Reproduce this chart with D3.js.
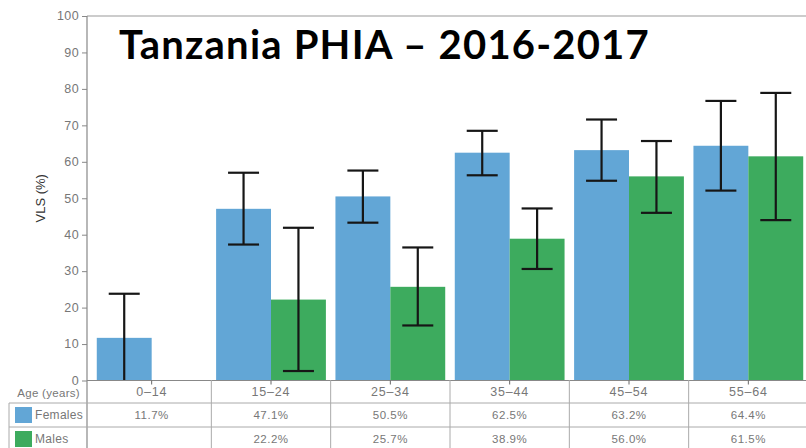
<!DOCTYPE html>
<html>
<head>
<meta charset="utf-8">
<script src="https://cdn.jsdelivr.net/npm/d3@7"></script>
<style>
  body { margin: 0; background: #fff; }
  svg { display: block; font-family: "Liberation Sans", Arial, sans-serif; }
</style>
</head>
<body>
<div id="chart"></div>
<script>
// data
const ageGroups = ["0–14", "15–24", "25–34", "35–44", "45–54", "55–64"];
const females = [11.7, 47.1, 50.5, 62.5, 63.2, 64.4];
const males = [null, 22.2, 25.7, 38.9, 56.0, 61.5];
const femalesLo = [0, 37.3, 43.3, 56.3, 54.8, 52.1];
const femalesHi = [23.8, 57.0, 57.6, 68.5, 71.6, 76.7];
const malesLo = [null, 2.6, 15.1, 30.6, 46.0, 44.0];
const malesHi = [null, 41.9, 36.5, 47.2, 65.7, 78.9];
const yTicks = [0, 10, 20, 30, 40, 50, 60, 70, 80, 90, 100];
const seriesNames = ["Females", "Males"];
const seriesColors = ["#62a6d6", "#3dab5e"];

const width = 806, height = 448;
const plotLeft = 87, plotTop = 16, plotBottom = 380.5;

const svg = d3.select("#chart").append("svg")
    .attr("width", width)
    .attr("height", height);

const x = d3.scaleBand()
    .domain(ageGroups)
    .range([92, 808])
    .paddingInner(0.08)
    .paddingOuter(0.04);

const xSub = d3.scaleBand()
    .domain(seriesNames)
    .range([0, x.bandwidth()]);

const y = d3.scaleLinear()
    .domain([0, 100])
    .range([plotBottom, plotTop]);

const series = [
    { name: "Females", vals: females, lo: femalesLo, hi: femalesHi },
    { name: "Males", vals: males, lo: malesLo, hi: malesHi }
];

// top frame line
svg.append("line")
    .attr("x1", plotLeft).attr("x2", width)
    .attr("y1", y(100)).attr("y2", y(100))
    .attr("stroke", "#999").attr("stroke-width", 1.2);

// bars
series.forEach((s, si) => {
    svg.append("g").selectAll("rect")
        .data(ageGroups.map((g, i) => ({ g: g, v: s.vals[i] })).filter(d => d.v != null))
        .enter().append("rect")
        .attr("x", d => x(d.g) + xSub(s.name))
        .attr("y", d => y(d.v))
        .attr("width", xSub.bandwidth())
        .attr("height", d => y(0) - y(d.v))
        .attr("fill", seriesColors[si]);
});

// error bars
const capW = 31;
series.forEach(s => {
    const eb = ageGroups.map((g, i) => ({ g: g, lo: s.lo[i], hi: s.hi[i] })).filter(d => d.lo != null);
    const g = svg.append("g").attr("stroke", "#161616").attr("stroke-width", 2.2);
    eb.forEach(d => {
        const cx = x(d.g) + xSub(s.name) + xSub.bandwidth() / 2;
        g.append("line").attr("x1", cx).attr("x2", cx).attr("y1", y(d.lo)).attr("y2", y(d.hi));
        g.append("line").attr("x1", cx - capW / 2).attr("x2", cx + capW / 2).attr("y1", y(d.hi)).attr("y2", y(d.hi));
        if (d.lo > 0) {
            g.append("line").attr("x1", cx - capW / 2).attr("x2", cx + capW / 2).attr("y1", y(d.lo)).attr("y2", y(d.lo));
        }
    });
});

// y axis
const yAxis = d3.axisLeft(y).tickValues(yTicks).tickSize(5).tickPadding(3);
const yg = svg.append("g")
    .attr("transform", "translate(" + plotLeft + ",0)")
    .call(yAxis);
yg.select(".domain").remove();
yg.selectAll(".tick line").attr("stroke", "#888");
yg.selectAll(".tick text").attr("fill", "#777")
    .style("font-size", "12.5px")
    .style("letter-spacing", "0.4px")
    .attr("dy", "0.3em");

svg.append("line")
    .attr("x1", plotLeft).attr("x2", plotLeft)
    .attr("y1", plotTop).attr("y2", height)
    .attr("stroke", "#888").attr("stroke-width", 1.2);

svg.append("text")
    .attr("transform", "translate(45," + (plotTop + plotBottom) / 2 + ") rotate(-90)")
    .attr("text-anchor", "middle")
    .attr("fill", "#333")
    .style("font-size", "13px")
    .text("VLS (%)");

// x axis baseline and small ticks
svg.append("line")
    .attr("x1", plotLeft).attr("x2", width)
    .attr("y1", y(0)).attr("y2", y(0))
    .attr("stroke", "#888").attr("stroke-width", 1.2);

svg.append("g").selectAll("line")
    .data(ageGroups)
    .enter().append("line")
    .attr("x1", d => x(d) + x.bandwidth() / 2)
    .attr("x2", d => x(d) + x.bandwidth() / 2)
    .attr("y1", y(0)).attr("y2", y(0) + 4)
    .attr("stroke", "#666");

// table below the axis
const rowTop = [380, 403, 427];
const colEdges = ageGroups.map(g => x(g) - (x.step() - x.bandwidth()) / 2);

const table = svg.append("g");
[403, 427].forEach(ty => {
    table.append("line")
        .attr("x1", 9).attr("x2", width)
        .attr("y1", ty).attr("y2", ty)
        .attr("stroke", "#aaa");
});
table.append("line")
    .attr("x1", 9).attr("x2", 9)
    .attr("y1", 403).attr("y2", height)
    .attr("stroke", "#aaa");
colEdges.slice(1).forEach(cx => {
    table.append("line")
        .attr("x1", cx).attr("x2", cx)
        .attr("y1", 380).attr("y2", height)
        .attr("stroke", "#aaa");
});

table.append("text")
    .attr("x", 80).attr("y", rowTop[0] + 13)
    .attr("dy", "0.35em")
    .attr("text-anchor", "end")
    .attr("fill", "#777")
    .style("font-size", "11.5px")
    .style("letter-spacing", "0.3px")
    .text("Age (years)");

table.selectAll(".agelab")
    .data(ageGroups)
    .enter().append("text")
    .attr("x", d => x(d) + x.bandwidth() / 2)
    .attr("y", rowTop[0] + 12)
    .attr("dy", "0.35em")
    .attr("text-anchor", "middle")
    .attr("fill", "#777")
    .style("font-size", "12.5px")
    .style("letter-spacing", "0.8px")
    .text(d => d);

series.forEach((s, si) => {
    const ry = rowTop[si + 1];
    table.append("rect")
        .attr("x", 15).attr("y", ry + 4)
        .attr("width", 17).attr("height", 16)
        .attr("fill", seriesColors[si]);
    table.append("text")
        .attr("x", 35).attr("y", ry + 12)
        .attr("dy", "0.35em")
        .attr("fill", "#777")
        .style("font-size", "12px")
        .style("letter-spacing", "0.3px")
        .text(s.name);
    table.selectAll(".v" + si)
        .data(ageGroups.map((g, i) => ({ g: g, v: s.vals[i] })).filter(d => d.v != null))
        .enter().append("text")
        .attr("x", d => x(d.g) + x.bandwidth() / 2)
        .attr("y", ry + 12)
        .attr("dy", "0.35em")
        .attr("text-anchor", "middle")
        .attr("fill", "#777")
        .style("font-size", "11.5px")
        .style("letter-spacing", "0.5px")
        .text(d => d.v.toFixed(1) + "%");
});

// title
svg.append("text")
    .attr("x", 119).attr("y", 58.5)
    .attr("fill", "#000")
    .style("font-family", "Lato, 'Open Sans', sans-serif")
    .style("font-weight", "bold")
    .style("font-size", "40px")
    .style("letter-spacing", "1.2px")
    .text("Tanzania PHIA – 2016-2017");
</script>
</body>
</html>
